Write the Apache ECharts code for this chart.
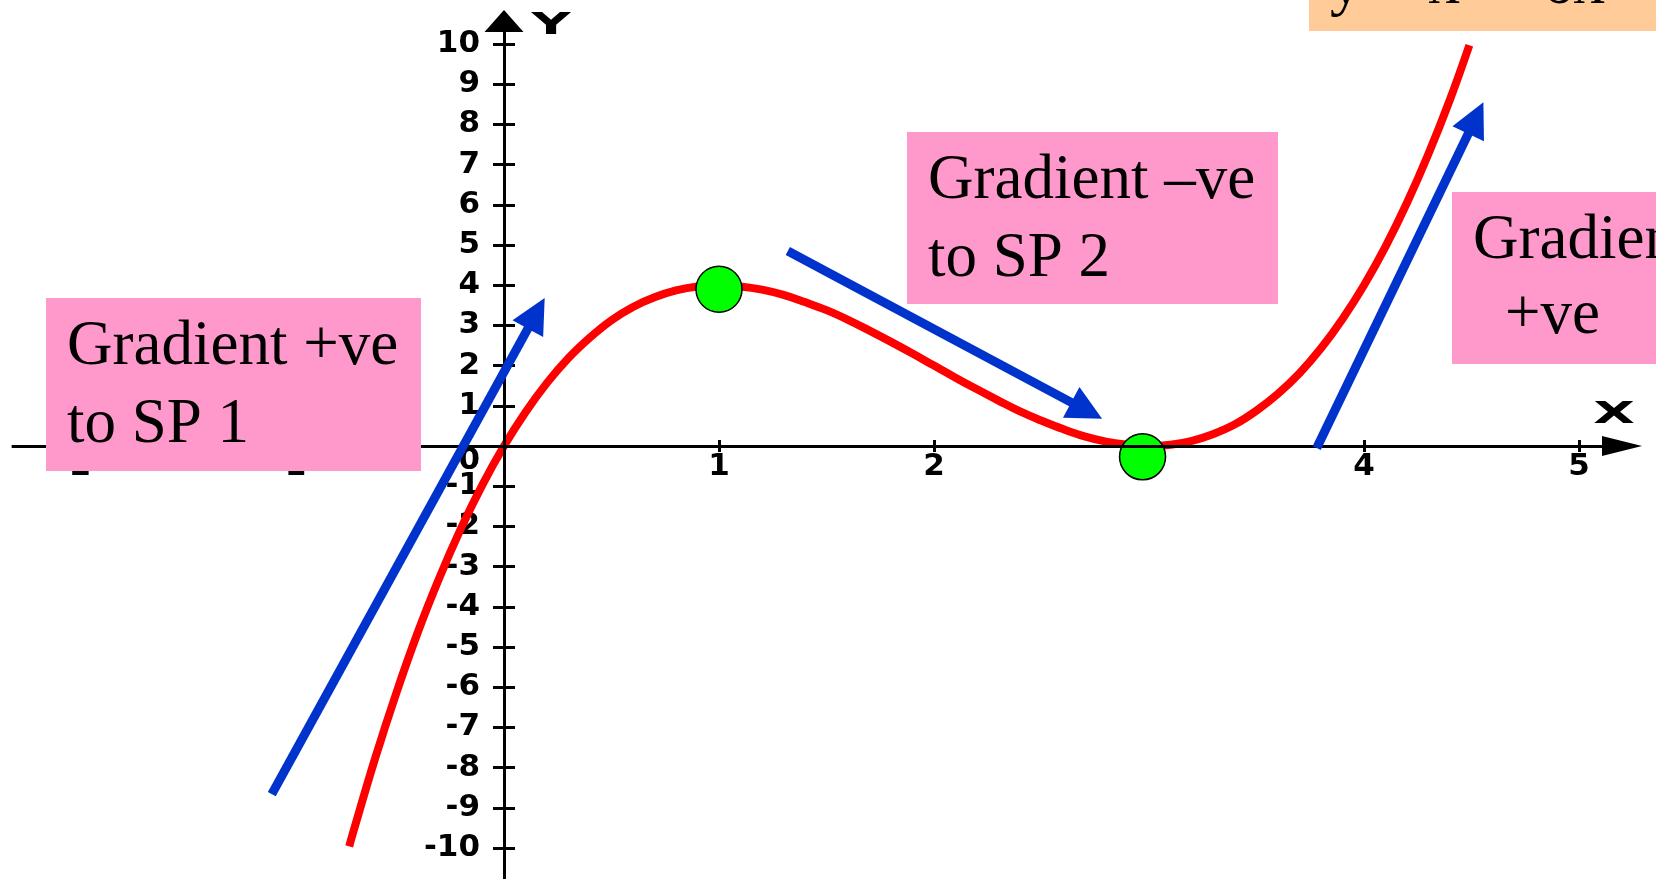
<!DOCTYPE html>
<html>
<head>
<meta charset="utf-8">
<title>y = x³ – 6x² + 9x</title>
<script src="https://cdn.jsdelivr.net/npm/echarts@6/dist/echarts.min.js"></script>
<style>
  html, body { margin: 0; padding: 0; background: #fff; }
  #chart { width: 1656px; height: 879px; }
</style>
</head>
<body>
<div id="chart"></div>
<script>
// red curve, points
const curveX = [-0.72, -0.7, -0.6, -0.5, -0.4, -0.3, -0.2, -0.1, 0, 0.1, 0.2, 0.3, 0.4, 0.5, 0.6, 0.7, 0.8, 0.9,
  1.0, 1.1, 1.2, 1.3, 1.4, 1.5, 1.6, 1.7, 1.8, 1.9, 2.0, 2.1, 2.2, 2.3, 2.4, 2.5, 2.6, 2.7, 2.8, 2.9,
  3.0, 3.1, 3.2, 3.3, 3.4, 3.5, 3.6, 3.7, 3.8, 3.9, 4.0, 4.1, 4.2, 4.3, 4.4, 4.49];
const curveY = [-9.96, -9.58, -7.78, -6.13, -4.62, -3.27, -2.05, -0.96, 0, 0.84, 1.57, 2.19, 2.70, 3.13, 3.46, 3.70, 3.87, 3.97,
  4.0, 3.97, 3.89, 3.76, 3.58, 3.38, 3.14, 2.87, 2.59, 2.30, 2.0, 1.70, 1.41, 1.13, 0.86, 0.63, 0.42, 0.24, 0.11, 0.03,
  0, 0.03, 0.13, 0.30, 0.54, 0.88, 1.30, 1.81, 2.43, 3.16, 4.0, 4.96, 6.05, 7.27, 8.62, 9.97];

// stationary points (green dots)
const spX = [1.0, 2.97];
const spY = [3.9, -0.27];

// blue gradient arrows, tail and arrow-head centre
const arrowFromX = [-1.08, 1.32, 3.78];
const arrowFromY = [-8.66, 4.85, -0.05];
const arrowToX = [0.15, 2.71, 4.52];
const arrowToY = [3.30, 0.88, 8.16];

// ticks and tick labels
const xTicks = [-2, -1, 0, 1, 2, 3, 4, 5];
const xTickLabels = [-2, -1, 1, 2, 3, 4, 5];
const yTickLabels = [-10, -9, -8, -7, -6, -5, -4, -3, -2, -1, 0, 1, 2, 3, 4, 5, 6, 7, 8, 9, 10];

// 画布布局: grid 比画布大, 原点在 (504, 446)
const GRID_L = -141, GRID_R = -138, GRID_T = -36.4, GRID_B = -9.2;
const W = 1656, H = 879, OX = 504, OY = 446;

const tickFont = { fontFamily: 'DejaVu Sans', fontWeight: 'bold', fontSize: 31, color: '#000' };
const serif = 'Liberation Serif';
const pink = '#ff99cc';

const chart = echarts.init(document.getElementById('chart'));

// 文字 (pink/orange notes)
function note(text, x, y, size) {
  return {
    type: 'text', z: 101, x: x, y: y,
    style: {
      text: text, x: 0, y: 0, fill: '#000',
      fontFamily: serif, fontSize: size || 63,
      align: 'left', verticalAlign: 'middle',
      textAlign: 'left', textVerticalAlign: 'middle'
    }
  };
}
function box(x, y, w, h, color) {
  return { type: 'rect', z: 100, shape: { x: x, y: y, width: w, height: h }, style: { fill: color } };
}
function axisName(text, x, y) {
  return {
    type: 'text', z: 101, x: x, y: y, scaleX: 1.8,
    style: {
      text: text, x: 0, y: 0, fill: '#000',
      fontFamily: 'DejaVu Sans', fontWeight: 'bold', fontSize: 30,
      align: 'center', verticalAlign: 'middle',
      textAlign: 'center', textVerticalAlign: 'middle'
    }
  };
}

const tickLine = { color: '#000', width: 3 };

const option = {
  animation: false,
  backgroundColor: '#fff',
  grid: { left: GRID_L, right: GRID_R, top: GRID_T, bottom: GRID_B, containLabel: false, outerBoundsMode: 'none' },
  xAxis: [
    {
      type: 'value', min: -3, max: 6, interval: 1, position: 'bottom',
      offset: OY - (H - GRID_B),
      axisLine: { show: false, onZero: false },
      axisTick: { show: true, length: 6, lineStyle: tickLine, customValues: xTicks },
      splitLine: { show: false },
      axisLabel: Object.assign({
        margin: 5,
        customValues: xTickLabels,
        formatter: v => String(v)
      }, tickFont)
    },
    {
      type: 'value', min: -3, max: 6, interval: 1, position: 'top',
      offset: GRID_T - OY,
      axisLine: { show: false, onZero: false },
      axisTick: { show: true, length: 6, lineStyle: tickLine, customValues: xTicks },
      splitLine: { show: false },
      axisLabel: { show: false }
    }
  ],
  yAxis: [
    {
      type: 'value', min: -11, max: 12, interval: 1, position: 'left',
      offset: GRID_L - OX,
      axisLine: { show: false, onZero: false },
      axisTick: { show: true, length: 11, lineStyle: tickLine, customValues: yTickLabels },
      splitLine: { show: false },
      axisLabel: Object.assign({
        margin: 24,
        customValues: yTickLabels,
        formatter: v => v === 0 ? '{z|0}' : String(v),
        rich: { z: Object.assign({ padding: [30, 0, 0, 0] }, tickFont) }
      }, tickFont)
    },
    {
      type: 'value', min: -11, max: 12, interval: 1, position: 'right',
      offset: OX - (W - GRID_R),
      axisLine: { show: false, onZero: false },
      axisTick: { show: true, length: 11, lineStyle: tickLine, customValues: yTickLabels },
      splitLine: { show: false },
      axisLabel: { show: false }
    }
  ],
  graphic: [
    box(46, 298, 375, 173, pink),
    note('Gradient +ve', 67, 347),
    note('to SP 1', 67, 425),
    box(907, 132, 371, 172, pink),
    note('Gradient \u2013ve', 928, 181),
    note('to SP 2', 928, 259),
    box(1452, 192, 220, 172, pink),
    note('Gradient', 1473, 241),
    note('+ve', 1505, 316),
    box(1309, -10, 360, 41, '#ffcc99'),
    note('y = x\u00b3 \u2013 6x\u00b2 + 9x', 1330, -14),
    axisName('X', 1614, 415),
    axisName('Y', 551, 26)
  ],
  series: [
    {
      // axis lines with arrow heads
      name: 'axes', type: 'line', z: 1, data: [],
      markLine: {
        silent: true, animation: false,
        label: { show: false },
        emphasis: { disabled: true },
        lineStyle: { color: '#000', width: 3, type: 'solid' },
        data: [
          [
            { coord: [-2.29, 0], symbol: 'none' },
            { coord: [5.2, 0], symbol: 'triangle', symbolSize: [20, 40] }
          ],
          [
            { coord: [0, -11], symbol: 'none' },
            { coord: [0, 10.57], symbol: 'triangle', symbolSize: [39, 22] }
          ]
        ]
      }
    },
    {
      name: 'curve', type: 'line', z: 2,
      data: curveX.map((x, i) => [x, curveY[i]]),
      smooth: 0.4, showSymbol: false, silent: true,
      lineStyle: { color: '#ff0000', width: 8 }
    },
    {
      // gradient arrows
      name: 'arrows', type: 'line', z: 3, data: [],
      markLine: {
        silent: true, animation: false,
        label: { show: false },
        emphasis: { disabled: true },
        lineStyle: { color: '#0033cc', width: 9, type: 'solid', cap: 'butt' },
        data: arrowFromX.map((x, i) => [
          { coord: [x, arrowFromY[i]], symbol: 'none' },
          { coord: [arrowToX[i], arrowToY[i]], symbol: 'triangle', symbolSize: [35, 35] }
        ])
      }
    },
    {
      name: 'stationary points', type: 'scatter', z: 4, silent: true,
      data: spX.map((x, i) => [x, spY[i]]),
      symbolSize: 46,
      itemStyle: { color: '#00ff00', borderColor: '#000', borderWidth: 1.5, opacity: 1 }
    }
  ]
};

chart.setOption(option);
</script>
</body>
</html>
